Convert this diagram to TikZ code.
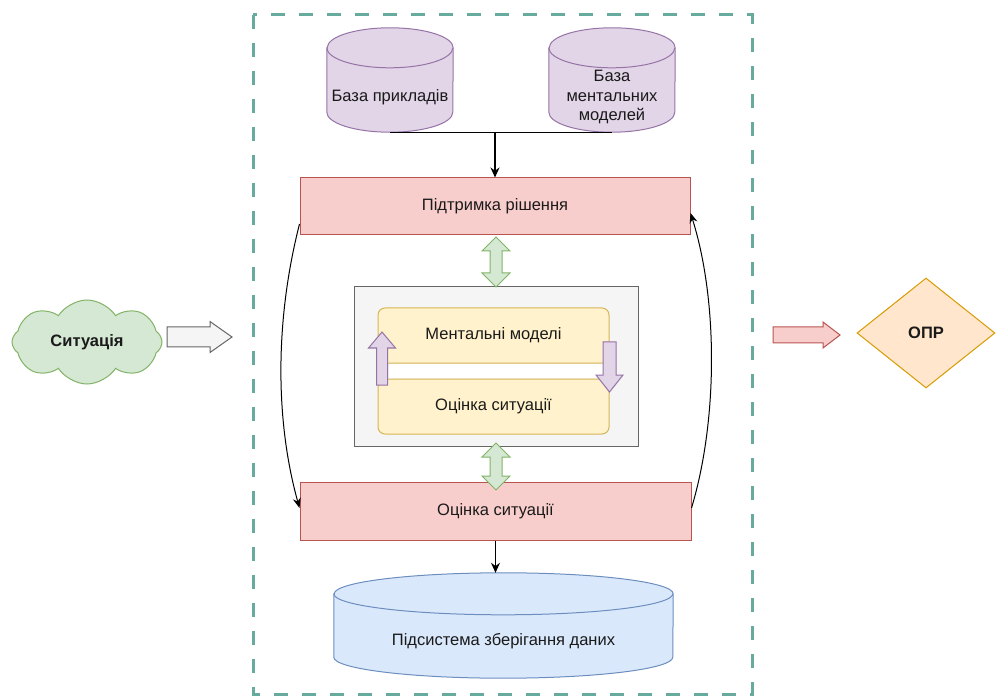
\documentclass[tikz,border=0pt]{standalone}
\usepackage{fontspec}
\setmainfont{Liberation Sans}
\usetikzlibrary{shapes.geometric,shapes.symbols,arrows.meta}
\definecolor{frameC}{HTML}{67AB9F}
\definecolor{purF}{HTML}{E1D5E7}\definecolor{purD}{HTML}{9673A6}
\definecolor{redF}{HTML}{F8CECC}\definecolor{redD}{HTML}{B85450}
\definecolor{grayF}{HTML}{F5F5F5}\definecolor{grayD}{HTML}{666666}
\definecolor{yelF}{HTML}{FFF2CC}\definecolor{yelD}{HTML}{D6B656}
\definecolor{bluF}{HTML}{DAE8FC}\definecolor{bluD}{HTML}{6C8EBF}
\definecolor{grnF}{HTML}{D5E8D4}\definecolor{grnD}{HTML}{82B366}
\definecolor{oraF}{HTML}{FFE6CC}\definecolor{oraD}{HTML}{D79B00}
\definecolor{txt}{HTML}{1A1A1A}
\newcommand{\cylshape}[5]{%
  \path[fill=#4, draw=#5, line width=1pt]
    ([yshift=-#3]#1.north west) -- ([yshift=#3]#1.south west)
    arc[start angle=180, end angle=360, x radius=#2, y radius=#3]
    -- ([yshift=-#3]#1.north east)
    arc[start angle=0, end angle=180, x radius=#2, y radius=#3] -- cycle;
  \draw[#5, line width=1pt] ([yshift=-#3]#1.north west)
    arc[start angle=180, end angle=360, x radius=#2, y radius=#3];}
\tikzset{
  cylbody/.style={draw=none, inner sep=0pt, minimum width=#1},
  tx/.style={text=txt, align=center, inner sep=0pt},
  boxred/.style={draw=redD, fill=redF, line width=1pt, minimum width=390pt, minimum height=57pt, text=txt},
  boxyel/.style={draw=yelD, fill=yelF, line width=1pt, rounded corners=7pt, minimum width=231pt, minimum height=55pt, text=txt},
  arr/.style={line width=1.2pt, -{Stealth[length=10pt,width=9pt]}},
  carr/.style={line width=1pt, -{Stealth[length=10pt,width=8pt]}},
  greenarrow/.style={fill=grnF, draw=grnD, line width=1pt},
  purarrow/.style={fill=purF, draw=purD, line width=1pt},
}
\begin{document}
\begin{tikzpicture}[x=1pt, y=-1pt, font=\fontsize{16.5}{19.5}\selectfont]
\useasboundingbox (0,0) rectangle (998,700);
% frame
\draw[frameC, line width=3pt, dash pattern=on 14pt off 14pt] (253,15) rectangle (752,694);
% cylinders
\node[cylbody=126pt, minimum height=104pt] (c1) at (390,80) {};
\node[cylbody=126pt, minimum height=104pt] (c2) at (612,80) {};
\node[cylbody=339pt, minimum height=105pt] (c3) at (503.5,625.5) {};
\cylshape{c1}{63pt}{20pt}{purF}{purD}
\cylshape{c2}{63pt}{20pt}{purF}{purD}
\cylshape{c3}{169.5pt}{21pt}{bluF}{bluD}
\node[tx] (c1t) at (390,97) {База прикладів};
\node[tx] (c2t) at (612,97) {База\\ментальних\\моделей};
\node[tx] (c3t) at (503.5,641) {Підсистема зберігання даних};
% boxes
\node[boxred] (ps) at (495,206.5) {Підтримка рішення};
\node[boxred, minimum width=391pt, minimum height=58pt] (oc) at (495.5,511) {Оцінка ситуації};
\node[draw=grayD, fill=grayF, line width=1pt, minimum width=284pt, minimum height=159pt] (gb) at (496,366.5) {};
\node[boxyel] (mm) at (493.5,335.5) {Ментальні моделі};
\node[boxyel] (os) at (493.5,406.5) {Оцінка ситуації};
\fill[white] (389,364) rectangle (603,378);
% purple arrows
\path[purarrow] (382,332) -- (395.5,348) -- (387.5,348) -- (387.5,385) -- (376.5,385) -- (376.5,348) -- (368.5,348) -- cycle;
\path[purarrow] (603,342) -- (616,342) -- (616,375) -- (623,375) -- (609.5,392) -- (596,375) -- (603,375) -- cycle;
% green double arrows
\path[greenarrow] (496,237) -- (510,251) -- (502,251) -- (502,273) -- (510,273) -- (496,287) -- (482,273) -- (490,273) -- (490,251) -- (482,251) -- cycle;
\path[greenarrow] (496,443) -- (510,457) -- (502,457) -- (502,476) -- (510,476) -- (496,490) -- (482,476) -- (490,476) -- (490,457) -- (482,457) -- cycle;
% connectors
\draw[line width=1.2pt] (c1.south) -- (c2.south);
\draw[arr] (c1.south -| ps.north) -- (ps.north);
\draw[arr] (oc.south) -- (oc.south |- c3.north);
\draw[carr] ([yshift=-17.5pt]ps.west) .. controls (275,320) and (275,420) .. ([yshift=3pt]oc.west);
\draw[carr] ([yshift=3pt]oc.east) .. controls (718,420) and (718,300) .. ([yshift=-6.5pt]ps.east);
% outside
\node[cloud, cloud puffs=8, cloud puff arc=115, aspect=1.8, minimum width=150pt, minimum height=84pt, fill=grnF, draw=grnD, line width=1pt, text=txt, font=\fontsize{16.5}{19.5}\selectfont\bfseries] (sit) at (87,342) {Ситуація};
\path[fill=grayF, draw=grayD, line width=1pt] (167,327) -- (210,327) -- (210,321.5) -- (232,337) -- (210,352.5) -- (210,347) -- (167,347) -- cycle;
\path[fill=redF, draw=redD, line width=1pt] (773,327) -- (823,327) -- (823,322) -- (840,335) -- (823,348) -- (823,343) -- (773,343) -- cycle;
\node[diamond, aspect=1.25, minimum width=138pt, minimum height=110pt, inner sep=0pt, fill=oraF, draw=oraD, line width=1pt, text=txt, font=\fontsize{16.5}{19.5}\selectfont\bfseries] (opr) at (926,333) {ОПР};
\end{tikzpicture}
\end{document}
